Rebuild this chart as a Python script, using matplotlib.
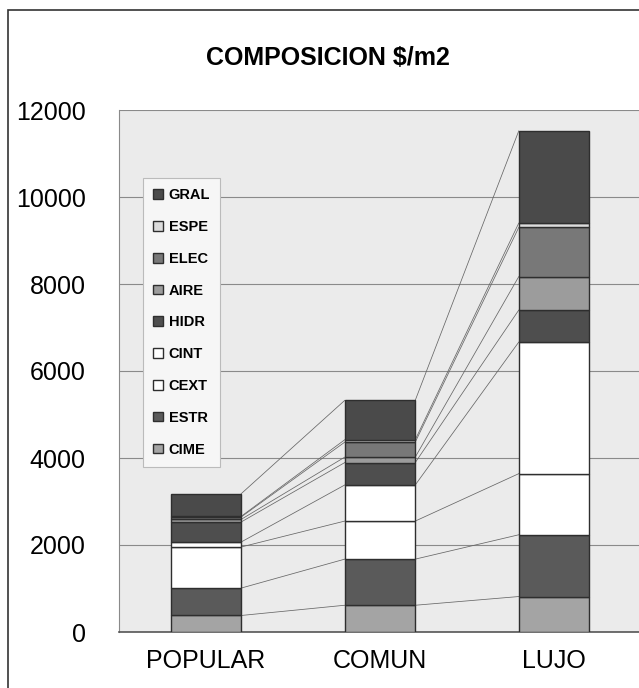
import numpy as np
import matplotlib
matplotlib.use("Agg")
import matplotlib.pyplot as plt
from matplotlib.patches import Rectangle

plt.rcParams['font.family'] = ['Liberation Sans', 'DejaVu Sans']

# cost composition per m2, stacked bottom -> top
categories = ["POPULAR", "COMUN", "LUJO"]
components = ["CIME", "ESTR", "CEXT", "CINT", "HIDR", "AIRE", "ELEC", "ESPE", "GRAL"]
cime = [380, 615, 815]
estr = [630, 1060, 1420]
cext = [945, 875, 1405]
cint = [115, 830, 3025]
hidr = [460, 515, 735]
aire = [60, 125, 770]
elec = [55, 345, 1130]
espe = [15, 55, 100]
gral = [520, 905, 2120]
yticks = [0, 2000, 4000, 6000, 8000, 10000, 12000]

series = [cime, estr, cext, cint, hidr, aire, elec, espe, gral]
colors = ["#a4a4a4", "#5a5a5a", "#ffffff", "#ffffff", "#4e4e4e",
          "#9c9c9c", "#787878", "#dcdcdc", "#4a4a4a"]

W, H = 639, 688
fig = plt.figure(figsize=(W / 100, H / 100), dpi=100)
fig.patch.set_facecolor("white")

# outer chart frame (only left and top edges fall inside the image)
fig.patches.append(Rectangle((8 / W, -0.1), 1.2, 1 - 10 / H + 0.1,
                             transform=fig.transFigure, fill=False,
                             edgecolor="#333333", linewidth=1.2))

ax = fig.add_axes([119 / W, (H - 632) / H, 522 / W, 522 / H])
ax.set_facecolor("#ebebeb")

x = np.arange(len(categories))
width = 0.405
bottom = np.zeros(len(categories))
tops = []
for name, vals, c in zip(components, series, colors):
    vals = np.array(vals, dtype=float)
    ax.bar(x, vals, width, bottom=bottom, color=c, edgecolor="#2e2e2e",
           linewidth=1.0, label=name, zorder=3)
    bottom = bottom + vals
    tops.append(bottom.copy())

# series lines joining the segment tops between neighbouring bars
for t in tops:
    for i in range(len(categories) - 1):
        ax.plot([x[i] + width / 2, x[i + 1] - width / 2], [t[i], t[i + 1]],
                color="#666666", linewidth=0.55, zorder=2)

ax.set_xlim(-0.5, 2.5)
ax.set_ylim(0, 12000)
ax.set_yticks(yticks)
ax.set_yticklabels([str(v) for v in yticks], fontsize=18)
ax.set_xticks(x)
ax.set_xticklabels(categories, fontsize=18)
ax.tick_params(axis="y", length=0, pad=24)
ax.tick_params(axis="x", length=0, pad=12)
ax.yaxis.grid(True, color="#8a8a8a", linewidth=0.8, zorder=1)
ax.set_axisbelow(True)
for side in ["top", "right"]:
    ax.spines[side].set_visible(False)
ax.spines["left"].set_color("#8a8a8a")
ax.spines["bottom"].set_color("#555555")
ax.spines["bottom"].set_linewidth(1.2)

fig.text(328 / W, 1 - 58 / H, "COMPOSICION $/m2", ha="center", va="center",
         fontsize=18, fontweight="bold")

handles, labels = ax.get_legend_handles_labels()
leg = ax.legend(handles[::-1], labels[::-1], loc="upper left",
                bbox_to_anchor=(143 / W, 1 - 178 / H),
                bbox_transform=fig.transFigure,
                prop={"weight": "bold", "size": 10.5},
                frameon=True, fancybox=False, edgecolor="#bbbbbb",
                facecolor="#f6f6f6", framealpha=1.0,
                handlelength=0.65, handleheight=0.65, handletextpad=0.4,
                labelspacing=1.22, borderpad=0.7, borderaxespad=0)
leg.get_frame().set_linewidth(0.8)
leg.set_zorder(5)

fig.savefig("out.png", dpi=100)
